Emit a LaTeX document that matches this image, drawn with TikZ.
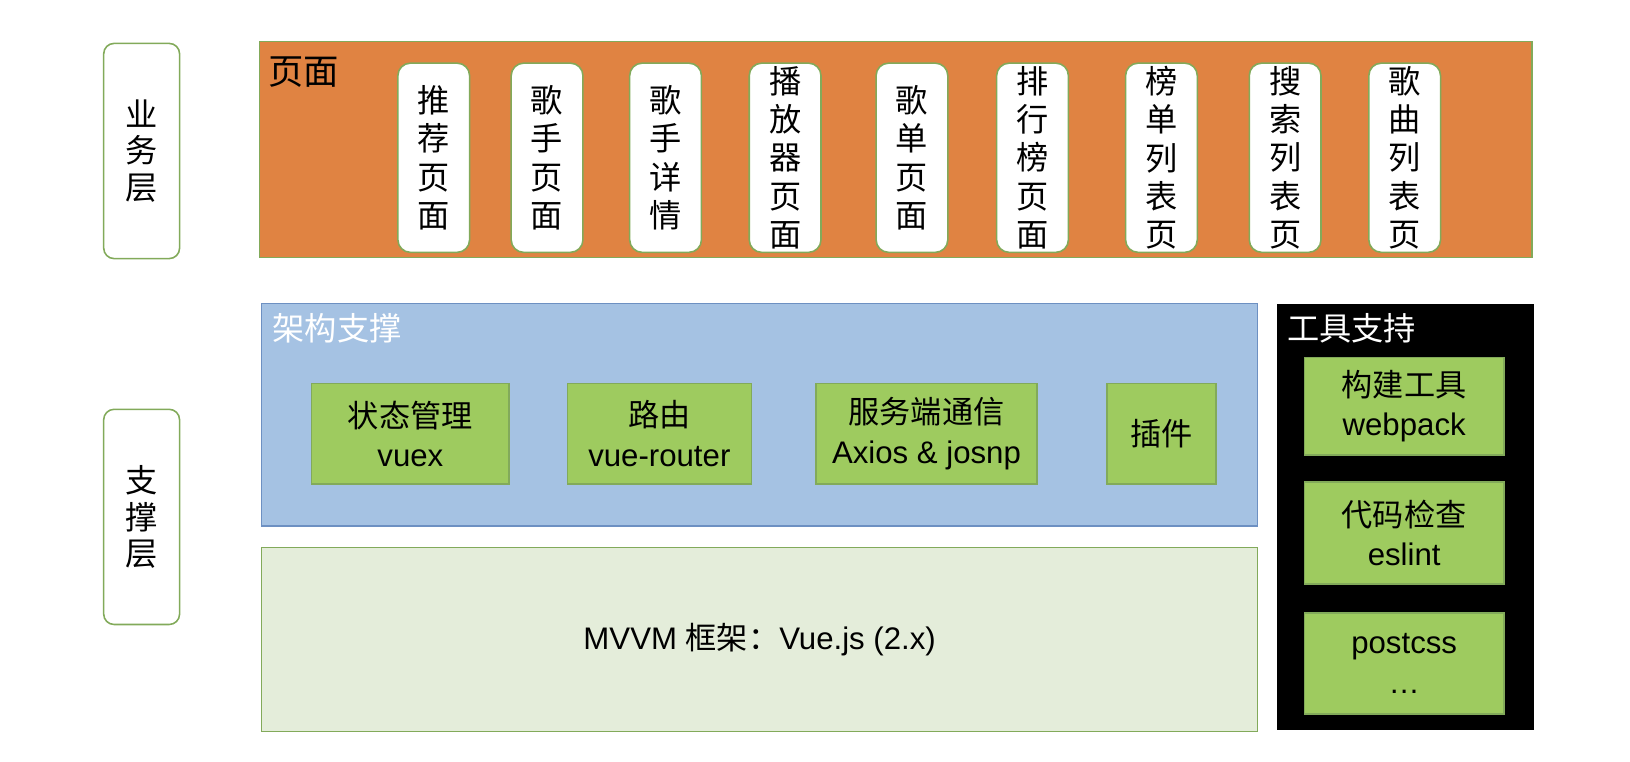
\documentclass[tikz,border=0pt]{standalone}
\usepackage{fontspec}
\setmainfont{Liberation Sans}
\newfontfamily\cjk{Noto Sans CJK SC}
\definecolor{edgegreen}{RGB}{130,170,90}
\definecolor{pageorange}{RGB}{224,131,66}
\definecolor{archblue}{RGB}{165,194,227}
\definecolor{archedge}{RGB}{109,144,194}
\definecolor{boxgreen}{RGB}{158,203,95}
\definecolor{vuegreen}{RGB}{228,237,218}
\tikzset{
	layer/.style={draw=edgegreen, line width=1.5pt, rounded corners=10pt, fill=white, anchor=north west,
		minimum width=73pt, minimum height=207pt, align=center, inner sep=1pt, font=\cjk\fontsize{31}{35}\selectfont},
	pagebox/.style={draw=edgegreen, line width=1.5pt, rounded corners=12pt, fill=white, anchor=north west,
		minimum width=69pt, minimum height=182pt, align=center, inner sep=0pt, font=\cjk\fontsize{31}{37}\selectfont},
	area/.style={anchor=north west, line width=1.5pt, inner sep=0pt},
	areatitle/.style={anchor=west, inner sep=0pt, font=\cjk\fontsize{31}{34}\selectfont},
	greenbox/.style={draw=edgegreen, fill=boxgreen, line width=1.5pt, anchor=north west, align=center,
		inner sep=1pt, font=\fontsize{30}{38}\selectfont}
}
\begin{document}
\begin{tikzpicture}[x=1pt,y=-1pt]
	\useasboundingbox (0,0) rectangle (1568,733);
	\node[layer] (bizlayer) at (99,41) {业\\务\\层};
	\node[layer] (suplayer) at (99,393) {支\\撑\\层};
	\node[area, draw=edgegreen, fill=pageorange, minimum width=1224pt, minimum height=208pt] (pages) at (249,39) {};
	\node[areatitle, font=\cjk\fontsize{34}{36}\selectfont] (pagestitle) at (258,69) {页面};
	\node[pagebox] (recommend) at (382,60) {推\\荐\\页\\面};
	\node[pagebox] (singer) at (491,60) {歌\\手\\页\\面};
	\node[pagebox] (singerdetail) at (605,60) {歌\\手\\详\\情};
	\node[pagebox] (player) at (720,60) {播\\放\\器\\页\\面};
	\node[pagebox] (disc) at (842,60) {歌\\单\\页\\面};
	\node[pagebox] (rank) at (958,60) {排\\行\\榜\\页\\面};
	\node[pagebox] (toplist) at (1082,60) {榜\\单\\列\\表\\页};
	\node[pagebox] (searchlist) at (1201,60) {搜\\索\\列\\表\\页};
	\node[pagebox] (songlist) at (1316,60) {歌\\曲\\列\\表\\页};
	\node[area, draw=archedge, fill=archblue, minimum width=958pt, minimum height=214pt] (arch) at (251,291) {};
	\node[areatitle, text=white] (archtitle) at (262,316) {架构支撑};
	\node[greenbox, minimum width=190pt, minimum height=97pt] (vuex) at (299,368) {{\cjk 状态管理}\\vuex};
	\node[greenbox, minimum width=177pt, minimum height=97pt] (router) at (545,368) {{\cjk 路由}\\vue-router};
	\node[greenbox, minimum width=213pt, minimum height=97pt] (axios) at (784,368) {{\cjk 服务端通信}\\Axios \& josnp};
	\node[greenbox, minimum width=105pt, minimum height=97pt, font=\cjk\fontsize{30}{38}\selectfont] (plugin) at (1064,368) {插件};
	\node[area, draw=edgegreen, fill=vuegreen, minimum width=958pt, minimum height=177pt,
		font=\fontsize{30}{34}\selectfont] (mvvm) at (251,526) {MVVM {\cjk 框架：}Vue.js (2.x)};
	\node[area, fill=black, minimum width=247pt, minimum height=409pt] (tools) at (1228,292) {};
	\node[areatitle, text=white] (toolstitle) at (1238,316) {工具支持};
	\node[greenbox, minimum width=192pt, minimum height=94pt] (webpack) at (1254,343) {{\cjk 构建工具}\\webpack};
	\node[greenbox, minimum width=192pt, minimum height=98pt] (eslint) at (1254,463) {{\cjk 代码检查}\\eslint};
	\node[greenbox, minimum width=192pt, minimum height=97pt] (postcss) at (1254,589) {postcss\\…};
\end{tikzpicture}
\end{document}
